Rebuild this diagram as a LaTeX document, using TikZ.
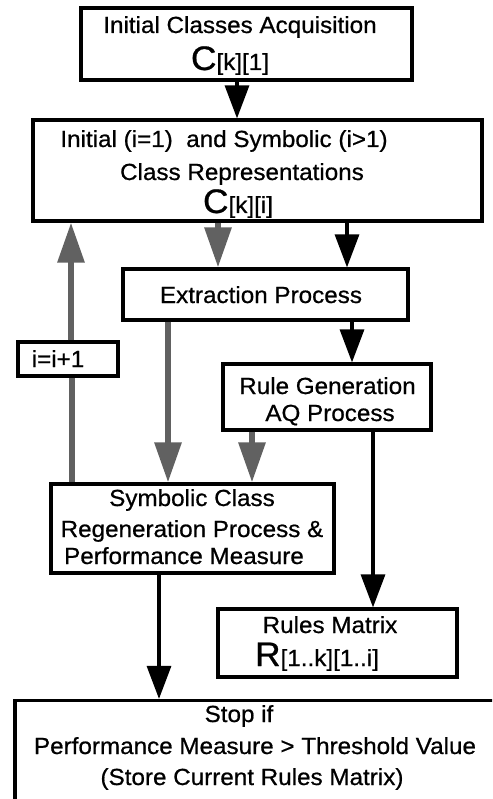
\documentclass[tikz,border=0pt]{standalone}
\usepackage{fontspec}
\setmainfont{Liberation Sans}[FakeStretch=1.04,FakeBold=0.7]
\usetikzlibrary{arrows.meta}
\definecolor{hatch}{gray}{0.38}
\newcommand\BigLet[1]{{\fontsize{34}{34}\selectfont #1}}
\begin{document}
\begin{tikzpicture}[x=1pt,y=-1pt,
  box/.style={draw, line width=3.2pt, inner sep=0pt, fill=white},
  txt/.style={anchor=base, inner sep=0pt, font=\fontsize{23.3}{28}\selectfont},
  solidarr/.style={line width=3.2pt, -{Triangle[length=33pt,width=24pt]}},
  hatcharr/.style={line width=6pt, draw=hatch, -{Triangle[length=40pt,width=26pt]}},
  hatchline/.style={line width=6pt, draw=hatch}]
\useasboundingbox (0,0) rectangle (492,799);
\clip (0,0) rectangle (492,799);
\fill[white] (0,0) rectangle (492,799);

% boxes
\node[box, minimum width=331pt, minimum height=72pt] (b1) at (246.5,44) {};
\node[box, minimum width=449pt, minimum height=101pt] (b2) at (257.5,170.5) {};
\node[box, minimum width=285pt, minimum height=51pt] (ext) at (265.5,294.5) {};
\node[box, minimum width=208pt, minimum height=66pt] (rg) at (327,397) {};
\node[box, minimum width=100pt, minimum height=34pt] (inc) at (68,359) {};
\node[box, minimum width=283pt, minimum height=89pt] (sym) at (192.5,528.5) {};
\node[box, minimum width=239pt, minimum height=68pt] (rm) at (337.5,643) {};
\node[box, minimum width=505pt, minimum height=129pt] (stop) at (267.5,765) {};

% texts
\node[txt] (t1a) at (240,33) {Initial Classes Acquisition};
\node[txt] (t1b) at (230,70) {\BigLet{C}[k][1]};
\node[txt] (t2a) at (224,147) {Initial (i=1)\ \ and Symbolic (i>1)};
\node[txt] (t2b) at (242,180) {Class Representations};
\node[txt] (t2c) at (238,213) {\BigLet{C}[k][i]};
\node[txt] (te) at (261,303) {Extraction Process};
\node[txt] (tra) at (327.5,394) {Rule Generation};
\node[txt] (trb) at (330,421) {AQ Process};
\node[txt] (ti) at (58,367) {i=i+1};
\node[txt] (tsa) at (192,506) {Symbolic Class};
\node[txt] (tsb) at (192,537) {Regeneration Process \&};
\node[txt] (tsc) at (184,564) {Performance Measure};
\node[txt] (tma) at (330,633) {Rules Matrix};
\node[txt] (tmb) at (317,666) {\BigLet{R}[1..k][1..i]};
\node[txt] (tpa) at (239,722) {Stop if};
\node[txt] (tpb) at (255,754) {Performance Measure > Threshold Value};
\node[txt] (tpc) at (252,785) {(Store Current Rules Matrix)};

% connectors
\draw[solidarr] (237,0 |- b1.south) -- (237,0 |- b2.north);
\draw[hatchline] (72,0 |- sym.north) -- (72,0 |- inc.south);
\draw[hatcharr] (71,0 |- inc.north) -- (71,0 |- b2.south);
\draw[hatcharr] (218,0 |- b2.south) -- (218,0 |- ext.north);
\draw[solidarr] (347,0 |- b2.south) -- (347,0 |- ext.north);
\draw[solidarr] (352,0 |- ext.south) -- (352,0 |- rg.north);
\draw[hatcharr] (168,0 |- ext.south) -- (168,0 |- sym.north);
\draw[hatcharr] (252,0 |- rg.south) -- (252,0 |- sym.north);
\draw[solidarr] (373,0 |- rg.south) -- (373,0 |- rm.north);
\draw[solidarr] (159,0 |- sym.south) -- (159,0 |- stop.north);
\end{tikzpicture}
\end{document}
